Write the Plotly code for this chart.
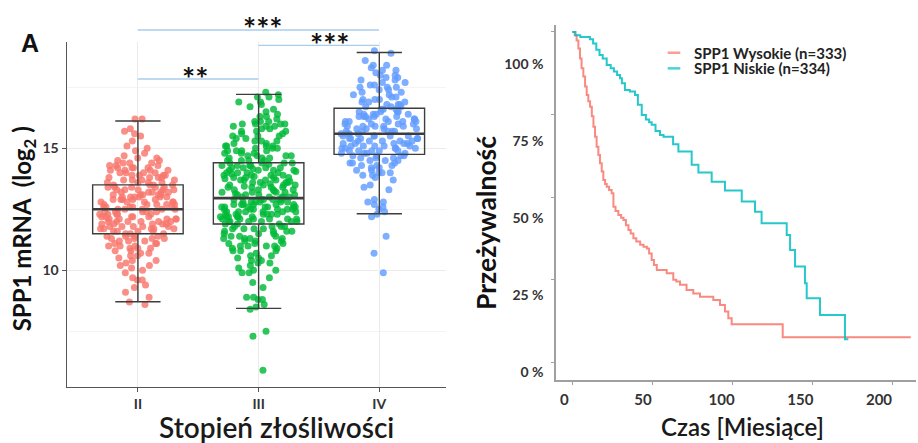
import plotly.graph_objects as go

# ---------------- Left panel data: SPP1 mRNA (log2) by grade ----------------
grades = ["II", "III", "IV"]
grade_colors = ["#F8766D", "#00BA38", "#619CFF"]

q1_vals = [11.50, 11.90, 14.75]
median_vals = [12.50, 12.96, 15.60]
q3_vals = [13.50, 14.41, 16.64]
lower_whisker = [8.71, 8.44, 12.32]
upper_whisker = [16.12, 17.21, 18.93]

grade_II = [
    8.6, 8.7, 8.9, 9.1, 9.3, 9.4, 9.6, 9.6, 9.7, 9.9, 10.0, 10.1, 10.2, 10.2, 10.3, 10.4,
    10.4, 10.5, 10.6, 10.6, 10.7, 10.7, 10.8, 10.8, 10.9, 10.9, 10.9, 11.0, 11.0, 11.0,
    11.1, 11.1, 11.1, 11.2, 11.2, 11.2, 11.3, 11.3, 11.3, 11.3, 11.4, 11.4, 11.4, 11.4,
    11.5, 11.5, 11.5,
    11.6, 11.6, 11.6, 11.7, 11.7, 11.7, 11.7, 11.8, 11.8, 11.8, 11.8, 11.9, 11.9, 11.9,
    11.9, 12.0, 12.0, 12.0, 12.0, 12.0, 12.1, 12.1, 12.1, 12.1, 12.2, 12.2, 12.2, 12.2,
    12.3, 12.3, 12.3, 12.3, 12.4, 12.4, 12.4, 12.4, 12.5, 12.5, 12.5, 12.5, 11.6, 11.8,
    12.0, 12.2, 12.4, 11.7, 11.9, 12.1, 12.3, 12.5,
    12.6, 12.6, 12.6, 12.6, 12.7, 12.7, 12.7, 12.7, 12.8, 12.8, 12.8, 12.8, 12.9, 12.9,
    12.9, 12.9, 13.0, 13.0, 13.0, 13.0, 13.0, 13.1, 13.1, 13.1, 13.1, 13.2, 13.2, 13.2,
    13.2, 13.3, 13.3, 13.3, 13.3, 13.4, 13.4, 13.4, 13.4, 13.5, 13.5, 13.5, 12.6, 12.8,
    13.0, 13.2, 13.4, 12.7, 12.9, 13.1, 13.3, 13.5,
    13.6, 13.6, 13.6, 13.7, 13.7, 13.7, 13.8, 13.8, 13.8, 13.9, 13.9, 13.9, 14.0, 14.0,
    14.0, 14.1, 14.1, 14.1, 14.2, 14.2, 14.2, 14.3, 14.3, 14.4, 14.4, 14.5, 14.5, 14.6,
    14.6, 14.7, 14.8, 14.9, 15.0, 15.1, 15.3, 15.5, 15.6, 15.7, 15.8, 16.2, 16.2, 13.6,
    13.8, 14.0, 14.2, 14.4, 13.7, 13.9, 14.1, 14.3,
]

grade_III = [
    5.9, 7.3, 7.5, 8.4, 8.5, 8.6, 8.8, 8.8, 8.9, 8.9, 9.3, 9.5, 9.7, 9.9, 10.0, 10.0,
    10.1, 10.2, 10.3, 10.4, 10.4, 10.5, 10.5, 10.6, 10.7, 10.8, 10.8, 10.9, 10.9, 11.0,
    11.0, 11.0, 11.1, 11.1, 11.1, 11.2, 11.2, 11.2, 11.3, 11.3, 11.3, 11.4, 11.4, 11.4,
    11.5, 11.5, 11.5, 11.6, 11.6, 11.6, 11.7, 11.7, 11.7, 11.7, 11.8, 11.8, 11.8, 11.8,
    11.9, 11.9, 10.3, 10.6, 11.0, 11.3, 11.6, 9.9, 10.8,
    11.9, 12.0, 12.0, 12.0, 12.1, 12.1, 12.1, 12.2, 12.2, 12.2, 12.3, 12.3, 12.3, 12.4,
    12.4, 12.4, 12.5, 12.5, 12.5, 12.6, 12.6, 12.6, 12.7, 12.7, 12.7, 12.8, 12.8, 12.8,
    12.9, 12.9, 12.9, 13.0, 13.0, 13.0, 12.0, 12.1, 12.2, 12.3, 12.4, 12.5, 12.6, 12.7,
    12.8, 12.9, 12.0, 12.2, 12.4, 12.6, 12.8, 13.0, 12.1, 12.3, 12.5, 12.7, 12.9, 12.0,
    12.3, 12.6, 12.9, 12.2, 12.5, 12.8, 12.1, 12.4, 12.7, 13.0, 12.6,
    13.1, 13.1, 13.2, 13.2, 13.3, 13.3, 13.4, 13.4, 13.5, 13.5, 13.6, 13.6, 13.7, 13.7,
    13.8, 13.8, 13.9, 13.9, 14.0, 14.0, 14.1, 14.1, 14.2, 14.2, 14.3, 14.3, 14.4, 14.4,
    13.1, 13.2, 13.3, 13.4, 13.5, 13.6, 13.7, 13.8, 13.9, 14.0, 14.1, 14.2, 14.3, 14.4,
    13.1, 13.3, 13.5, 13.7, 13.9, 14.1, 14.3, 13.2, 13.4, 13.6, 13.8, 14.0, 14.2, 14.4,
    13.15, 13.45, 13.75, 14.05, 14.35, 13.25, 13.55, 13.85, 14.15, 13.65, 13.95,
    14.5, 14.5, 14.5, 14.6, 14.6, 14.6, 14.7, 14.7, 14.7, 14.8, 14.8, 14.8, 14.9, 14.9,
    14.9, 15.0, 15.0, 15.0, 15.1, 15.1, 15.1, 15.2, 15.2, 15.3, 15.3, 15.4, 15.4, 15.5,
    15.5, 15.6, 15.6, 15.7, 15.7, 15.8, 15.8, 15.9, 15.9, 15.9, 16.0, 16.0, 16.0, 16.0,
    16.1, 16.1, 16.1, 16.2, 16.3, 16.4, 16.5, 16.6, 16.7, 16.8, 16.9, 17.0, 17.1, 17.2,
    17.3, 17.1, 14.5, 14.7, 14.9, 15.1, 15.3, 15.5, 15.7, 16.3, 16.9,
]

grade_IV = [
    9.9, 10.7, 11.4, 12.2, 12.3, 12.4, 12.5, 12.6, 12.7, 12.8, 12.8, 13.3, 13.4, 13.5,
    13.7, 13.8, 13.9, 13.9, 14.0, 14.0, 14.1, 14.1, 14.2, 14.2, 14.3, 14.3, 14.3, 14.4,
    14.4, 14.4, 14.5, 14.5, 14.5, 14.6, 14.6, 14.6, 14.7, 14.7, 14.7, 14.7, 12.9, 14.0,
    14.8, 14.8, 14.8, 14.9, 14.9, 14.9, 14.9, 15.0, 15.0, 15.0, 15.0, 15.1, 15.1, 15.1,
    15.1, 15.2, 15.2, 15.2, 15.2, 15.3, 15.3, 15.3, 15.3, 15.4, 15.4, 15.4, 15.4, 15.5,
    15.5, 15.5, 15.5, 15.6, 15.6, 15.6, 15.6, 14.8, 14.9, 15.0, 15.1, 15.2, 15.3, 15.4,
    15.5,
    15.7, 15.7, 15.7, 15.7, 15.8, 15.8, 15.8, 15.8, 15.9, 15.9, 15.9, 15.9, 16.0, 16.0,
    16.0, 16.0, 16.1, 16.1, 16.1, 16.1, 16.2, 16.2, 16.2, 16.2, 16.3, 16.3, 16.3, 16.3,
    16.4, 16.4, 16.4, 16.4, 16.5, 16.5, 16.5, 16.5, 16.6, 16.6, 16.6, 15.7, 15.9, 16.1,
    16.3,
    16.7, 16.7, 16.7, 16.8, 16.8, 16.8, 16.9, 16.9, 16.9, 17.0, 17.0, 17.0, 17.1, 17.1,
    17.2, 17.2, 17.3, 17.3, 17.4, 17.4, 17.5, 17.5, 17.6, 17.6, 17.7, 17.7, 17.8, 17.8,
    17.9, 17.9, 18.0, 18.0, 18.1, 18.2, 18.2, 18.3, 18.4, 18.4, 18.6, 18.9, 19.0, 17.5,
]

grade_values = [grade_II, grade_III, grade_IV]

# ---------------- Right panel data: Kaplan-Meier survival ----------------
high_label = "SPP1 Wysokie (n=333)"
low_label = "SPP1 Niskie (n=334)"
km_colors = ["#F8766D", "#00BFC4"]

high_time = [0, 1.5, 2.7, 3.8, 4.8, 5.8, 6.9, 8, 9, 10, 11.1, 12.2, 13.2, 14.2, 15.2,
             16.3, 17.3, 18.4, 19.4, 20.5, 21.5, 23, 24.6, 25.7, 27, 28.8, 30.5, 32,
             33.5, 35.1, 36.5, 38.2, 40, 42.4, 44.5, 46.6, 48, 49.6, 51, 52.8, 59, 63.1,
             65, 67.3, 71.4, 75.6, 79.8, 88.1, 92.3, 95.4, 97.5, 99.6, 131.5, 211.5]
high_surv = [1.0, 0.99, 0.974, 0.95, 0.92, 0.89, 0.865, 0.835, 0.809, 0.79, 0.774, 0.745,
             0.713, 0.683, 0.653, 0.628, 0.603, 0.578, 0.552, 0.54, 0.532, 0.522, 0.512,
             0.471, 0.458, 0.446, 0.438, 0.431, 0.415, 0.401, 0.39, 0.376, 0.366, 0.356,
             0.35, 0.345, 0.33, 0.31, 0.295, 0.28, 0.27, 0.25, 0.245, 0.235, 0.219, 0.209,
             0.199, 0.189, 0.174, 0.154, 0.134, 0.116, 0.076, 0.076]

low_time = [0, 2, 5, 11, 13, 15, 17, 19, 21.5, 24, 26, 28, 29.8, 31, 32.9, 36, 39.2, 41,
            43.4, 46, 48, 49.6, 52, 54.8, 57, 63, 66.3, 74.6, 78.8, 87.1, 95.4, 105.9,
            114.2, 118.3, 134, 136.1, 139.2, 145.4, 146.5, 154.8, 170.4, 172.5]
low_surv = [1.0, 0.99, 0.985, 0.978, 0.965, 0.946, 0.93, 0.92, 0.90, 0.89, 0.88, 0.87,
            0.86, 0.845, 0.824, 0.82, 0.809, 0.78, 0.749, 0.735, 0.727, 0.719, 0.70,
            0.688, 0.683, 0.66, 0.638, 0.598, 0.575, 0.547, 0.520, 0.487, 0.456, 0.421,
            0.386, 0.340, 0.290, 0.240, 0.194, 0.144, 0.070, 0.070]

surv_ticks = [0, 0.25, 0.5, 0.75, 1.0]
surv_tick_text = ["0 %", "25 %", "50 %", "75 %", "100 %"]
time_ticks = [0, 50, 100, 150, 200]

FONT = "Lato"
W, H = 918, 443


def px_x(px):
    return px / W


def px_y(py):
    return 1 - py / H


fig = go.Figure()

# jittered points
for g, vals, col in zip(grades, grade_values, grade_colors):
    fig.add_trace(go.Box(
        y=vals, x0=g, name=g, boxpoints="all", jitter=0.85, pointpos=0,
        width=0.75, fillcolor="rgba(0,0,0,0)",
        line=dict(width=0, color="rgba(0,0,0,0)"),
        marker=dict(color=col, size=7, opacity=0.82),
        showlegend=False, hoveron="points", xaxis="x", yaxis="y",
    ))

# box summary drawn on top
fig.add_trace(go.Box(
    x=grades, q1=q1_vals, median=median_vals, q3=q3_vals,
    lowerfence=lower_whisker, upperfence=upper_whisker,
    boxpoints=False, width=0.75, fillcolor="rgba(0,0,0,0)",
    line=dict(color="#3d3d3d", width=1.4), showlegend=False,
    xaxis="x", yaxis="y",
))
# thicker median line
fig.add_trace(go.Box(
    x=grades, q1=median_vals, median=median_vals, q3=median_vals,
    lowerfence=median_vals, upperfence=median_vals,
    boxpoints=False, width=0.75, fillcolor="rgba(0,0,0,0)",
    line=dict(color="#3d3d3d", width=2.6), showlegend=False,
    xaxis="x", yaxis="y", hoverinfo="skip",
))

# KM curves
fig.add_trace(go.Scatter(x=high_time, y=high_surv, mode="lines", line_shape="hv",
                         line=dict(color=km_colors[0], width=2), opacity=0.85,
                         showlegend=False, xaxis="x2", yaxis="y2", name=high_label))
fig.add_trace(go.Scatter(x=low_time, y=low_surv, mode="lines", line_shape="hv",
                         line=dict(color=km_colors[1], width=2), opacity=0.85,
                         showlegend=False, xaxis="x2", yaxis="y2", name=low_label))
# legend entries with short dash symbols (one legend each, to match the tight spacing)
for lab, col, leg in zip([high_label, low_label], km_colors, ["legend", "legend2"]):
    fig.add_trace(go.Scatter(x=[None], y=[None], mode="markers", name=lab, legend=leg,
                             marker=dict(symbol="line-ew", size=9, opacity=0.7,
                                         line=dict(color=col, width=2.5)),
                             xaxis="x2", yaxis="y2"))
# carrier for the label axes
fig.add_trace(go.Scatter(x=[None], y=[None], mode="markers", showlegend=False,
                         xaxis="x3", yaxis="y3", hoverinfo="skip"))

tick_font = dict(family=FONT, size=14, color="#333333", weight="bold")
legend_font = dict(family=FONT, size=15, color="#222222", weight="bold")

fig.update_layout(
    width=W, height=H,
    margin=dict(l=0, r=0, t=0, b=0),
    paper_bgcolor="white", plot_bgcolor="white",
    font=dict(family=FONT, color="#222222"),
    boxmode="overlay",
    xaxis=dict(domain=[px_x(66.7), px_x(445.7)], anchor="y", type="category",
               categoryorder="array", categoryarray=grades, range=[-0.59, 2.55],
               showline=True, linecolor="#555555", linewidth=1.4,
               ticks="outside", ticklen=4, tickcolor="#555555",
               showgrid=True, gridcolor="#ebebeb", gridwidth=1, zeroline=False,
               tickfont=tick_font),
    yaxis=dict(domain=[px_y(386.7), px_y(41.7)], anchor="x", range=[5.23, 19.37],
               tickvals=[10, 15], showline=True, linecolor="#555555", linewidth=1.4,
               ticks="outside", ticklen=4, tickcolor="#555555",
               showgrid=True, gridcolor="#ebebeb", gridwidth=1, zeroline=False,
               minor=dict(tickvals=[7.5, 12.5, 17.5], showgrid=True,
                          gridcolor="#f4f4f4", ticks=""),
               tickfont=tick_font),
    xaxis2=dict(domain=[px_x(555.5), px_x(916)], anchor="y2", range=[-10.5, 214.8],
                tickvals=time_ticks, showticklabels=False, ticks="outside",
                ticklen=3, tickcolor="#a0a0a0", showline=True, linecolor="#a0a0a0",
                linewidth=1.8, showgrid=False, zeroline=False),
    yaxis2=dict(domain=[px_y(380), px_y(25)], anchor="x2", range=[-0.053, 1.021],
                tickvals=surv_ticks, showticklabels=False, ticks="outside",
                ticklen=3, tickcolor="#a0a0a0", showline=True, linecolor="#a0a0a0",
                linewidth=1.8, showgrid=False, zeroline=False),
    xaxis3=dict(overlaying="x2", anchor="y2", side="bottom", range=[-5.6, 223.5],
                tickvals=time_ticks, showline=False, showgrid=False, zeroline=False,
                ticks="", ticklabelstandoff=9,
                tickfont=dict(family=FONT, size=15, color="#333333", weight="bold")),
    yaxis3=dict(overlaying="y2", anchor="x2", side="left", range=[-0.027, 1.128],
                tickvals=surv_ticks, ticktext=surv_tick_text, showline=False,
                showgrid=False, zeroline=False, ticks="", ticklabelstandoff=11,
                tickfont=dict(family=FONT, size=14, color="#333333", weight="bold")),
    legend=dict(x=px_x(654), y=px_y(36.5), xanchor="left", yanchor="top",
                bgcolor="rgba(0,0,0,0)", font=legend_font),
    legend2=dict(x=px_x(654), y=px_y(52.1), xanchor="left", yanchor="top",
                 bgcolor="rgba(0,0,0,0)", font=legend_font),
)

# significance brackets
bracket_color = "#a9cdee"
for x0, x1, yy in [(137.7, 379.0, 30), (258.3, 379.0, 45.3), (137.7, 258.3, 79)]:
    fig.add_shape(type="line", xref="paper", yref="paper",
                  x0=px_x(x0), x1=px_x(x1), y0=px_y(yy), y1=px_y(yy),
                  line=dict(color=bracket_color, width=1.3))
for txt, xx, yy in [("***", 263.3, 21.7), ("***", 330, 38.3), ("**", 195, 71.7)]:
    fig.add_annotation(text=txt, xref="paper", yref="paper", x=px_x(xx), y=px_y(yy + 6),
                       showarrow=False, xanchor="center", yanchor="middle",
                       font=dict(family=FONT, size=31, color="#111111", weight="bold"))

# panel letter and axis titles
fig.add_annotation(text="A", xref="paper", yref="paper", x=px_x(29.5), y=px_y(42.5),
                   showarrow=False, xanchor="center", yanchor="middle",
                   font=dict(family="Liberation Sans", size=25, color="#111111", weight="bold"))
fig.add_annotation(text="SPP1 mRNA  (log<sub>2</sub> )", xref="paper", yref="paper",
                   x=px_x(23.3), y=px_y(229), textangle=-90, showarrow=False,
                   xanchor="center", yanchor="middle",
                   font=dict(family=FONT, size=24, color="#111111", weight="bold"))
fig.add_annotation(text="Stopień złośliwości", xref="paper", yref="paper",
                   x=px_x(276.7), y=px_y(427), showarrow=False,
                   xanchor="center", yanchor="middle",
                   font=dict(family=FONT, size=28, color="#1a1a1a", weight=600))
fig.add_annotation(text="Przeżywalność", xref="paper", yref="paper",
                   x=px_x(486.7), y=px_y(223.3), textangle=-90, showarrow=False,
                   xanchor="center", yanchor="middle",
                   font=dict(family=FONT, size=26.5, color="#111111", weight="bold"))
fig.add_annotation(text="Czas [Miesiące]", xref="paper", yref="paper",
                   x=px_x(742.5), y=px_y(426), showarrow=False,
                   xanchor="center", yanchor="middle",
                   font=dict(family=FONT, size=24, color="#1a1a1a", weight=600))

fig.write_html(
    "out.html",
    config={"displayModeBar": False},
    post_script="document.body.style.margin='0';document.body.style.overflow='hidden';",
)
